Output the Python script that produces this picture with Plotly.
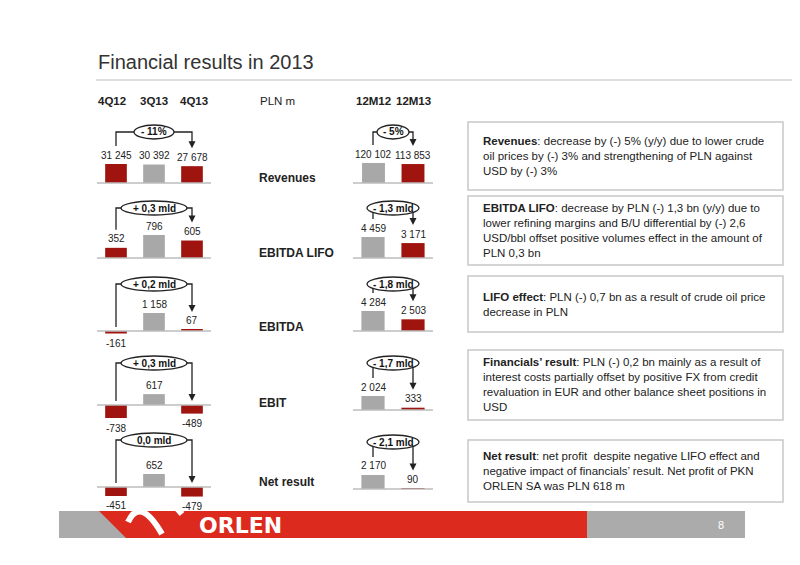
import plotly.graph_objects as go

W, H = 800, 565

# data
quarters = ["4Q12", "3Q13", "4Q13"]
years = ["12M12", "12M13"]
metrics = ["Revenues", "EBITDA LIFO", "EBITDA", "EBIT", "Net result"]
q_values = [[31245, 30392, 27678], [352, 796, 605], [-161, 1158, 67], [-738, 617, -489], [-451, 652, -479]]
y_values = [[120102, 113853], [4459, 3171], [4284, 2503], [2024, 333], [2170, 90]]
q_change = ["- 11%", "+ 0,3 mld", "+ 0,2 mld", "+ 0,3 mld", "0,0 mld"]
y_change = ["- 5%", "- 1,3 mld", "- 1,8 mld", "- 1,7 mld", "- 2,1 mld"]
comments = [
    "<b>Revenues</b>: decrease by (-) 5% (y/y) due to lower crude<br>oil prices by (-) 3% and strengthening of PLN against<br>USD by (-) 3%",
    "<b>EBITDA LIFO</b>: decrease by PLN (-) 1,3 bn (y/y) due to<br>lower refining margins and B/U differential by (-) 2,6<br>USD/bbl offset positive volumes effect in the amount of<br>PLN 0,3 bn",
    "<b>LIFO effect</b>: PLN (-) 0,7 bn as a result of crude oil price<br>decrease in PLN",
    "<b>Financials’ result</b>: PLN (-) 0,2 bn mainly as a result of<br>interest costs partially offset by positive FX from credit<br>revaluation in EUR and other balance sheet positions in<br>USD",
    "<b>Net result</b>: net profit  despite negative LIFO effect and<br>negative impact of financials’ result. Net profit of PKN<br>ORLEN SA was PLN 618 m",
]

# layout in pixels
base_q = [183, 258, 331, 405, 487]
base_y = [183, 258, 331, 410, 489]
hmax_q = [19, 23, 18, 13, 13]
hmax_y = [20, 21, 20, 14, 14]
brk_q = [132, 208, 284, 363, 440]
brk_y = [132, 208, 284, 363, 442]
label_y = [178, 253, 327, 403, 482]
box_y = [(122, 190), (196, 265), (276, 332), (350, 420), (440, 502)]

DARK = "#A0140F"
GREY = "#A8A8A8"
FONT = "Liberation Sans Narrow, Arial Narrow, Liberation Sans, sans-serif"
OFF = 8  # page body margin


def px(x):
    return (x - OFF) / W


def py(y):
    return 1 - (y - OFF) / H


def fmt(v):
    return f"{v:,}".replace(",", " ")


fig = go.Figure()
shapes, annos = [], []
layout = {}


def text(x, y, t, size, color="#222", anchor="center", family=FONT, align="center"):
    annos.append(dict(x=px(x), y=py(y), xref="paper", yref="paper", text=t, showarrow=False,
                      xanchor=anchor, yanchor="middle", align=align,
                      font=dict(size=size, color=color, family=family)))


def panel(n, cats, vals, base, hmax, x0, x1, bw, brk, chg, ow):
    m = max(abs(v) for v in vals)
    k = m / hmax
    top, bot = base - 40, base + 30
    ax = "" if n == 1 else str(n)
    layout["xaxis" + ax] = dict(domain=[px(x0), px(x1)], anchor="y" + ax, visible=False,
                                type="category", categoryorder="array", categoryarray=cats)
    layout["yaxis" + ax] = dict(domain=[py(bot), py(top)], anchor="x" + ax, visible=False,
                                range=[-30 * k, 40 * k])
    first = "12M" not in cats[0]
    colors = [DARK, GREY, DARK] if first else [GREY, DARK]
    fig.add_trace(go.Bar(x=cats, y=vals, width=bw, marker=dict(color=colors, line_width=0),
                         xaxis="x" + ax, yaxis="y" + ax, showlegend=False, hoverinfo="skip"))
    shapes.append(dict(type="line", xref="paper", yref="y" + ax, x0=px(x0), x1=px(x1), y0=0, y1=0,
                       line=dict(color="#BDBDBD", width=1.5)))
    for c, v in zip(cats, vals):
        annos.append(dict(x=c, y=v, xref="x" + ax, yref="y" + ax, text=fmt(v), showarrow=False,
                          xanchor="center", yanchor="middle", yshift=9 if v >= 0 else -10,
                          font=dict(size=10, color="#222", family=FONT)))
    # bracket
    n_c = len(cats)
    step = (x1 - x0) / n_c
    xa = x0 + step * 0.5
    xb = x0 + step * (n_c - 0.5)

    def tip(v):
        h = abs(v) / k
        return base - h - 18 if v >= 0 else base - 4

    ya, yb = tip(vals[0]), tip(vals[-1])
    line = dict(color="#222", width=1.3)
    shapes.append(dict(type="path", xref="paper", yref="paper",
                       path=f"M {px(xa)},{py(ya)} L {px(xa)},{py(brk)} L {px(xb)},{py(brk)} L {px(xb)},{py(yb - 6)}",
                       line=line))
    shapes.append(dict(type="path", xref="paper", yref="paper", fillcolor="#222", line=dict(width=0),
                       path=f"M {px(xb - 3.5)},{py(yb - 7)} L {px(xb + 3.5)},{py(yb - 7)} L {px(xb)},{py(yb)} Z"))
    xc = (xa + xb) / 2
    shapes.append(dict(type="circle", xref="paper", yref="paper", fillcolor="white", line=line,
                       x0=px(xc - ow / 2), x1=px(xc + ow / 2), y0=py(brk + 7), y1=py(brk - 7)))
    text(xc, brk, f"<b>{chg}</b>", 10, color="#111")


for i in range(5):
    panel(2 * i + 1, quarters, q_values[i], base_q[i], hmax_q[i], 97, 211, 0.57, brk_q[i], q_change[i],
          40 if "%" in q_change[i] else 66)
    panel(2 * i + 2, years, y_values[i], base_y[i], hmax_y[i], 353, 433, 0.58, brk_y[i], y_change[i],
          32 if "%" in y_change[i] else 52)
    text(257, label_y[i], f"<b>{metrics[i]}</b>", 12, anchor="left")
    y0, y1 = box_y[i]
    shapes.append(dict(type="rect", xref="paper", yref="paper", x0=px(468), x1=px(783), y0=py(y1), y1=py(y0),
                       line=dict(color="#C8C8C8", width=1.5), fillcolor="white", layer="below"))
    text(481, (y0 + y1) / 2, comments[i], 11.5, anchor="left", align="left")

# headers
for t, x in zip(quarters + ["PLN m"] + years, [112, 154, 194, 277, 373, 413]):
    text(x, 101, t if t == "PLN m" else f"<b>{t}</b>", 11.5)

# title
text(96, 62, "Financial results in 2013", 20, color="#333", anchor="left")
shapes.append(dict(type="line", xref="paper", yref="paper", x0=px(96), x1=1, y0=py(80), y1=py(80),
                   line=dict(color="#BBBBBB", width=1)))

# footer band
shapes.append(dict(type="rect", xref="paper", yref="paper", x0=px(59), x1=px(745), y0=py(538), y1=py(511),
                   fillcolor="#ABABAB", line_width=0))
shapes.append(dict(type="path", xref="paper", yref="paper", fillcolor="#DD2A1E", line_width=0,
                   path=f"M {px(99)},{py(511)} L {px(587)},{py(511)} L {px(587)},{py(538)} L {px(126)},{py(538)} Z"))
shapes.append(dict(type="path", xref="paper", yref="paper", line=dict(color="white", width=6),
                   path=f"M {px(128)},{py(522)} Q {px(140)},{py(496)} {px(162)},{py(534)}"))
shapes.append(dict(type="path", xref="paper", yref="paper", line=dict(color="white", width=6),
                   path=f"M {px(146)},{py(504)} Q {px(160)},{py(488)} {px(182)},{py(514)}"))
text(197, 525, "<b>ORLEN</b>", 22, color="white", anchor="left", family="DejaVu Sans")
text(721, 525, "8", 11, color="white")

fig.update_layout(width=W, height=H, margin=dict(l=0, r=0, t=0, b=0), plot_bgcolor="white",
                  paper_bgcolor="white", bargap=0.4, shapes=shapes, annotations=annos, **layout)
fig.write_html("out.html")
